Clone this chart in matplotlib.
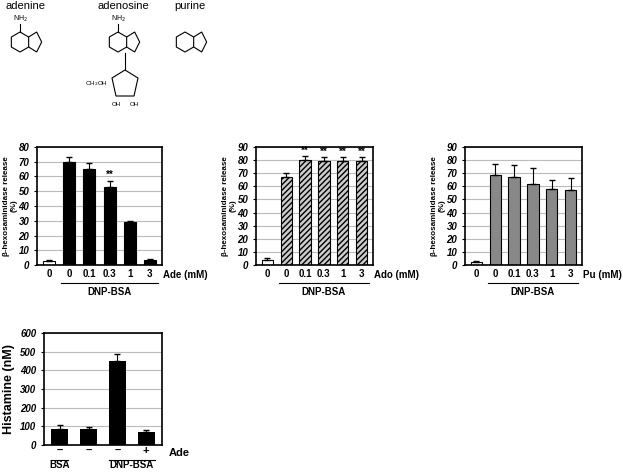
import matplotlib
matplotlib.use("Agg")
import matplotlib.pyplot as plt
import numpy as np
from matplotlib.patches import Polygon

plt.rcParams['font.family'] = ['Liberation Sans', 'DejaVu Sans']

conc = ["0", "0", "0.1", "0.3", "1", "3"]
ade = [3, 70, 65, 53, 29, 3.5]
ade_err = [0.5, 3, 4, 4, 1, 0.5]
ado = [4, 67, 80, 79, 79, 79]
ado_err = [1, 3, 3, 3, 3, 3]
pu = [2, 69, 67, 62, 58, 57]
pu_err = [1, 8, 9, 12, 7, 9]
hist = [85, 85, 450, 70]
hist_err = [20, 12, 35, 12]
hist_lab = ["\u2013", "\u2013", "\u2013", "+"]

fig = plt.figure(figsize=(6.23, 4.73), dpi=100)
W, H = 623, 473

def ax_at(l, t, r, b):
    return fig.add_axes([l/W, 1-b/H, (r-l)/W, (b-t)/H])

def style(ax, ymax, step):
    ax.set_ylim(0, ymax)
    ax.set_yticks(np.arange(0, ymax+1, step))
    for lab in ax.get_yticklabels():
        lab.set_fontweight('bold'); lab.set_fontstyle('italic'); lab.set_fontsize(7)
    ax.yaxis.grid(True, color='#bbbbbb', lw=0.8)
    ax.set_axisbelow(True)
    for s in ax.spines.values():
        s.set_linewidth(1.2)
    ax.tick_params(axis='x', length=0, pad=3)
    ax.tick_params(axis='y', length=2)

def panel(l, r, vals, errs, ymax, step, color, hatch, agent, stars):
    ax = ax_at(l, 147, r, 265)
    x = np.arange(len(vals))
    cols = ['white'] + [color]*(len(vals)-1)
    hat = [None] + [hatch]*(len(vals)-1)
    for xi, v, e, c, h in zip(x, vals, errs, cols, hat):
        ax.bar(xi, v, 0.6, color=c, edgecolor='black', lw=0.8, hatch=h)
        ax.errorbar(xi, v, yerr=[[0], [e]], color='black', capsize=2, lw=0.8)
    ax.set_xlim(-0.6, len(vals)-0.4)
    ax.set_xticks(x)
    ax.set_xticklabels(conc, fontsize=7, fontweight='bold')
    style(ax, ymax, step)
    ax.set_ylabel("\u03b2-hexosaminidase release\n(%)", fontsize=5.8, fontweight='bold', labelpad=1, linespacing=1.0)
    ax.text(len(vals)-0.35, -ymax*0.085, agent, fontsize=7, fontweight='bold', va='center', ha='left', clip_on=False)
    ax.plot([0.6, len(vals)-0.6], [-ymax*0.15]*2, color='black', lw=0.8, clip_on=False)
    ax.text((len(vals))/2, -ymax*0.23, "DNP-BSA", fontsize=7, fontweight='bold', ha='center', va='center')
    for i in stars:
        ax.text(x[i], vals[i]+errs[i]+0.5, "**", fontsize=7, fontweight='bold', ha='center', va='bottom')
    return ax

panel(37, 162, ade, ade_err, 80, 10, 'black', None, "Ade (mM)", [3])
panel(256, 373, ado, ado_err, 90, 10, '#cccccc', '//////', "Ado (mM)", [2, 3, 4, 5])
panel(465, 582, pu, pu_err, 90, 10, '#888888', None, "Pu (mM)", [])

# histamine
ax = ax_at(44, 333, 162, 445)
x = np.arange(len(hist))
ax.bar(x, hist, 0.6, color='black')
ax.errorbar(x, hist, yerr=[[0]*4, hist_err], fmt='none', ecolor='black', capsize=2, lw=0.8)
ax.set_xlim(-0.55, 3.55)
ax.set_xticks(x)
ax.set_xticklabels(hist_lab, fontsize=8, fontweight='bold')
style(ax, 600, 100)
ax.tick_params(axis='x', pad=1)
ax.set_ylabel("Histamine (nM)", fontsize=9, fontweight='bold')
ax.text(3.8, -45, "Ade", fontsize=8, fontweight='bold', va='center')
ax.plot([-0.3, 0.3], [-80]*2, color='black', lw=0.8, clip_on=False)
ax.plot([1.7, 3.3], [-80]*2, color='black', lw=0.8, clip_on=False)
ax.text(0, -108, "BSA", fontsize=7, fontweight='bold', ha='center', va='center')
ax.text(2.5, -108, "DNP-BSA", fontsize=7, fontweight='bold', ha='center', va='center')

# chemical structures (schematic)
sa = fig.add_axes([0, 1-135/H, 1, 135/H])
sa.set_xlim(0, W); sa.set_ylim(135, 0); sa.axis('off')
def purine(cx, cy, r=10):
    ang = np.deg2rad(np.arange(6)*60 + 30)
    hexp = np.c_[cx + r*np.cos(ang), cy + r*np.sin(ang)]
    sa.add_patch(Polygon(hexp, closed=True, fill=False, lw=0.8))
    p1, p2 = hexp[0], hexp[5]
    mid = (p1+p2)/2 + np.array([r*1.3, 0])
    pent = [p2, p2+np.array([r*0.8, -r*0.5]), mid, p1+np.array([r*0.8, r*0.5]), p1]
    sa.add_patch(Polygon(pent, closed=False, fill=False, lw=0.8))
for name, cx in [("adenine", 25), ("adenosine", 123)]:
    sa.text(cx, 9, name, fontsize=8, ha='center')
    purine(cx-5, 42)
    sa.plot([cx-5, cx-5], [32, 24], color='black', lw=0.8)
    sa.text(cx-5, 21, "NH$_2$", fontsize=5, ha='center')
sa.text(190, 9, "purine", fontsize=8, ha='center')
purine(185, 42)
sa.add_patch(Polygon([[125, 70], [138, 78], [134, 96], [116, 96], [112, 78]], closed=True, fill=False, lw=0.8))
sa.plot([125, 125], [53, 70], color='black', lw=0.8)
sa.text(108, 85, "CH$_2$OH", fontsize=4.5, ha='right')
sa.text(116, 106, "OH", fontsize=4.5, ha='center')
sa.text(134, 106, "OH", fontsize=4.5, ha='center')

fig.savefig("out.png", dpi=100)
